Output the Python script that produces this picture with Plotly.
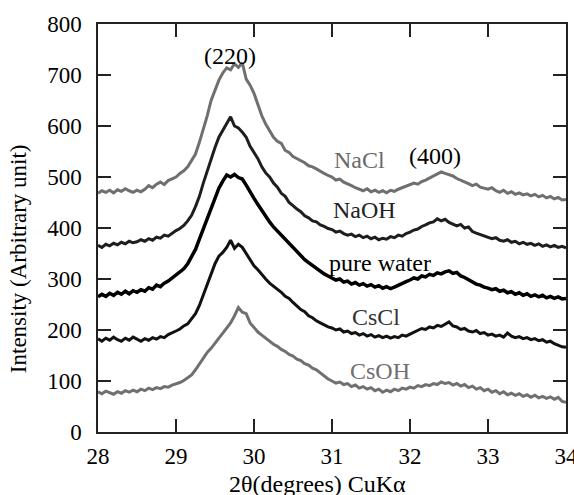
import numpy as np
import plotly.graph_objects as go

# 2-theta grid (degrees), step 0.05 from 28 to 34
two_theta = np.round(np.linspace(28.0, 34.0, 121), 2)

nacl = [468, 473, 470, 474, 469, 475, 472, 477, 473, 470, 474, 471, 476, 483, 479, 486, 490, 485, 493, 497,
        500, 507, 512, 520, 532, 545, 568, 592, 620, 650, 672, 690, 704, 714, 710, 722, 715, 724, 692, 680,
        664, 641, 620, 604, 592, 578, 570, 566, 552, 548, 540, 536, 531, 528, 522, 520, 516, 511, 507, 503,
        500, 494, 496, 490, 487, 483, 479, 476, 473, 477, 471, 474, 470, 473, 469, 474, 472, 476, 479, 482,
        484, 488, 486, 491, 494, 498, 502, 506, 510, 507, 504, 502, 497, 494, 490, 487, 483, 486, 480, 478,
        476, 479, 473, 470, 474, 468, 471, 466, 469, 465, 467, 463, 466, 461, 464, 459, 462, 457, 460, 455, 456]

naoh = [366, 362, 368, 365, 370, 367, 372, 369, 374, 371, 373, 377, 374, 379, 376, 382, 380, 386, 384, 390,
        395, 399, 405, 414, 425, 442, 462, 488, 512, 535, 558, 578, 592, 603, 618, 600, 596, 588, 578, 560,
        548, 536, 520, 508, 500, 488, 480, 468, 462, 450, 444, 437, 432, 424, 420, 414, 412, 406, 403, 399,
        397, 392, 394, 389, 386, 388, 383, 386, 381, 384, 379, 382, 377, 380, 378, 383, 381, 386, 384, 389,
        392, 396, 398, 403, 406, 410, 412, 418, 414, 417, 411, 408, 404, 407, 400, 402, 393, 390, 387, 384,
        382, 379, 381, 376, 374, 377, 372, 374, 369, 372, 368, 370, 366, 369, 364, 367, 363, 366, 362, 364, 361]

pure_water = [265, 270, 266, 272, 268, 274, 270, 276, 271, 277, 274, 279, 276, 283, 280, 288, 285, 292, 296, 302,
              306, 313, 320, 330, 343, 358, 378, 398, 418, 440, 460, 478, 492, 504, 500, 505, 499, 496, 484, 470,
              458, 446, 434, 424, 412, 402, 394, 385, 378, 368, 360, 352, 346, 338, 332, 326, 320, 315, 310, 306,
              302, 298, 300, 294, 296, 290, 293, 288, 291, 286, 289, 284, 287, 282, 285, 281, 284, 288, 291, 295,
              298, 302, 300, 306, 304, 309, 307, 312, 310, 314, 316, 311, 313, 306, 303, 298, 295, 290, 288, 284,
              282, 279, 281, 276, 278, 273, 275, 270, 273, 268, 271, 266, 269, 265, 268, 263, 266, 262, 265, 261, 262]

cscl = [183, 178, 184, 180, 186, 181, 178, 184, 180, 186, 182, 178, 183, 180, 185, 182, 187, 185, 191, 194,
        198, 202, 208, 212, 222, 232, 248, 268, 290, 312, 330, 345, 352, 362, 376, 360, 368, 362, 350, 338,
        326, 318, 308, 300, 292, 286, 280, 274, 266, 262, 254, 246, 240, 236, 228, 224, 218, 214, 210, 206,
        204, 200, 202, 196, 198, 193, 195, 190, 193, 188, 191, 186, 189, 185, 188, 184, 187, 185, 190, 188,
        192, 196, 199, 203, 201, 206, 204, 209, 207, 212, 216, 208, 206, 201, 203, 198, 196, 199, 193, 195,
        190, 192, 188, 190, 186, 194, 188, 185, 187, 183, 185, 181, 183, 179, 181, 176, 178, 173, 170, 167, 166]

csoh = [79, 75, 80, 77, 74, 79, 76, 81, 78, 82, 79, 84, 81, 86, 83, 87, 85, 89, 88, 92,
        94, 97, 101, 106, 112, 122, 134, 145, 156, 164, 173, 184, 194, 203, 214, 228, 244, 235, 232, 214,
        204, 196, 190, 184, 178, 172, 168, 162, 158, 152, 149, 143, 140, 134, 131, 125, 122, 116, 110, 104,
        100, 96, 98, 93, 95, 89, 92, 86, 89, 84, 87, 81, 84, 78, 82, 79, 84, 81, 86, 84,
        88, 86, 91, 89, 93, 91, 95, 93, 98, 95, 97, 92, 95, 90, 93, 87, 90, 84, 87, 81,
        84, 78, 81, 75, 79, 73, 76, 72, 75, 70, 73, 68, 72, 67, 70, 66, 69, 64, 68, 60, 58]

series_names = ["NaCl", "NaOH", "pure water", "CsCl", "CsOH"]
series_values = [nacl, naoh, pure_water, cscl, csoh]
series_colors = ["#6f6f6f", "#1e1e1e", "#000000", "#111111", "#707070"]
series_widths = [3, 3, 3.5, 3, 3]

# label positions (x in degrees, y in intensity)
label_text = ["NaCl", "NaOH", "pure water", "CsCl", "CsOH", "(220)", "(400)"]
label_x = [31.35, 31.42, 31.62, 31.56, 31.62, 29.69, 32.32]
label_y = [533, 436, 332, 226, 120, 738, 542]
label_colors = ["#6a6a6a", "#222222", "#000000", "#333333", "#707070", "#000000", "#000000"]

FONT = "Liberation Serif"

fig = go.Figure()
for name, vals, col, w in zip(series_names, series_values, series_colors, series_widths):
    fig.add_trace(go.Scatter(x=two_theta, y=vals, mode="lines", name=name,
                             line=dict(color=col, width=w), showlegend=False))

for t, lx, ly, c in zip(label_text, label_x, label_y, label_colors):
    fig.add_annotation(x=lx, y=ly, text=t, showarrow=False,
                       font=dict(family=FONT, size=24, color=c))

fig.add_annotation(xref="paper", yref="paper", x=-0.171, y=0.426, xanchor="center", yanchor="middle",
                   text="Intensity (Arbitrary unit)",
                   textangle=-90, showarrow=False, font=dict(family=FONT, size=23, color="#000"))
fig.add_annotation(xref="paper", yref="paper", x=0.468, y=-0.127, xanchor="center", yanchor="middle",
                   text="2θ(degrees) CuKα", showarrow=False,
                   font=dict(family=FONT, size=24, color="#000"))

axis_common = dict(showgrid=False, zeroline=False, showline=True, linecolor="#222", linewidth=1.5,
                   mirror="ticks", ticks="inside", ticklen=13, tickwidth=1.5, tickcolor="#222",
                   ticklabeloverflow="allow", automargin=False,
                   tickfont=dict(family=FONT, size=23, color="#000"))

fig.update_xaxes(range=[28, 34], tickmode="array", tickvals=[28, 29, 30, 31, 32, 33, 34],
                 ticklabelstandoff=3, **axis_common)
fig.update_yaxes(range=[0, 800], tickmode="array", tickvals=[0, 100, 200, 300, 400, 500, 600, 700, 800],
                 ticklabelstandoff=10, **axis_common)

fig.update_layout(width=574, height=495, margin=dict(l=98, r=8, t=24, b=63),
                  paper_bgcolor="white", plot_bgcolor="white")

fig.write_html("out.html")
